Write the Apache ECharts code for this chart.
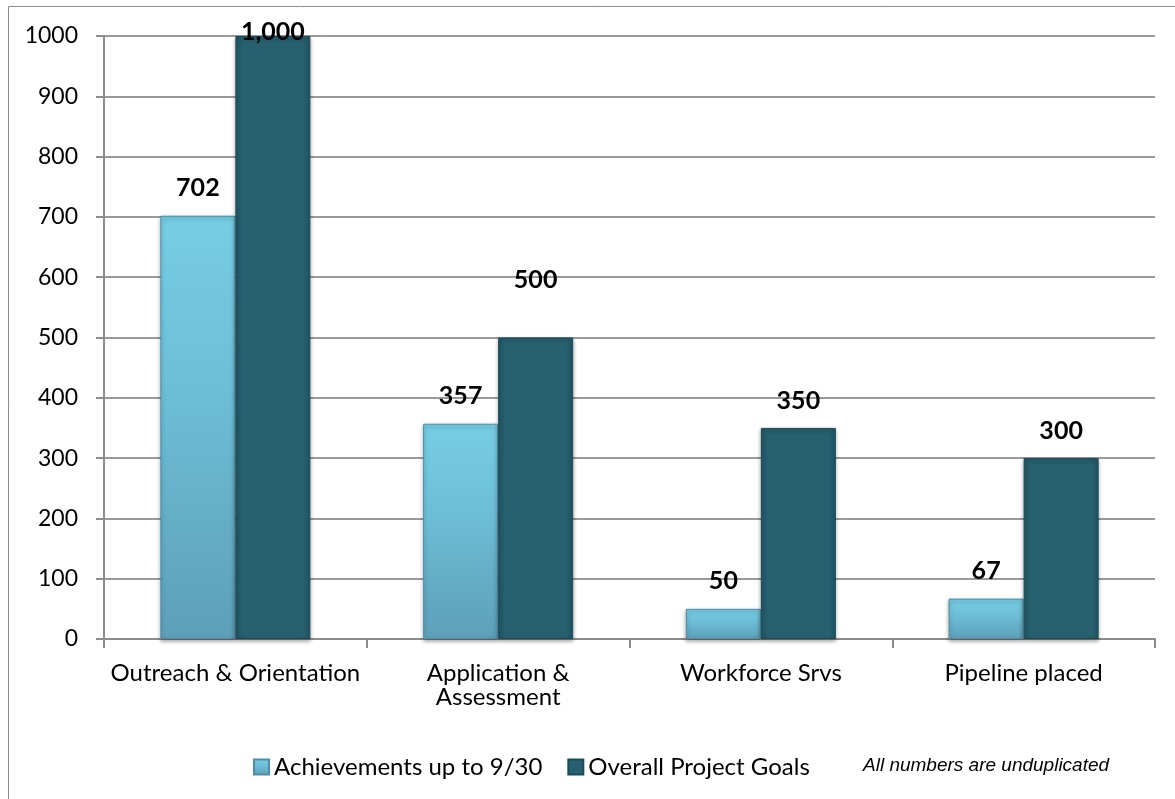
<!DOCTYPE html>
<html>
<head>
<meta charset="utf-8">
<script src="https://cdn.jsdelivr.net/npm/echarts@6/dist/echarts.min.js"></script>
<style>
  html, body { margin: 0; padding: 0; background: #fff; }
  #chart { width: 1175px; height: 799px; }
</style>
</head>
<body>
<div id="chart"></div>
<script>
// data
var categories = ['Outreach & Orientation', 'Application &\nAssessment', 'Workforce Srvs', 'Pipeline placed'];
var achievements = [702, 357, 50, 67];
var goals = [1000, 500, 350, 300];
var yTicks = [0, 100, 200, 300, 400, 500, 600, 700, 800, 900, 1000];

var lightBar = new echarts.graphic.LinearGradient(0, 0, 0, 1, [
    { offset: 0, color: '#76cde4' },
    { offset: 0.4, color: '#6dbfd8' },
    { offset: 1, color: '#5d9fb9' }
]);
var darkBar = new echarts.graphic.LinearGradient(0, 0, 1, 0, [
    { offset: 0, color: '#215766' },
    { offset: 0.1, color: '#27606e' },
    { offset: 0.9, color: '#27606e' },
    { offset: 1, color: '#215766' }
]);

function fmt(v) {
    return v >= 1000 ? String(v).replace(/\B(?=(\d{3})+(?!\d))/g, ',') : String(v);
}

// label distances tuned per bar (Excel had some labels nudged)
var goalLabelDist = [-8, 45, 15, 15];

var myChart = echarts.init(document.getElementById('chart'));
myChart.setOption({
    animation: false,
    textStyle: { fontFamily: 'Lato' },
    grid: { left: 104, right: 20, top: 36, bottom: 160 },
    graphic: [
        {
            type: 'rect',
            shape: { x: 8.5, y: 6.5, width: 1200, height: 900 },
            style: { fill: 'none', stroke: '#8c8c8c', lineWidth: 1 },
            silent: true
        },
        {
            type: 'text',
            left: 863,
            top: 756,
            style: {
                text: 'All numbers are unduplicated',
                font: 'italic 19px "Liberation Sans", Arial',
                fill: '#000'
            }
        }
    ],
    legend: {
        left: 248,
        top: 750,
        itemWidth: 15,
        itemHeight: 15,
        itemGap: 25,
        icon: 'rect',
        textStyle: { fontSize: 24, color: '#000', fontFamily: 'Lato' },
        data: ['Achievements up to 9/30', 'Overall Project Goals']
    },
    xAxis: {
        type: 'category',
        data: categories,
        axisLine: { lineStyle: { color: '#8c8c8c', width: 2 } },
        axisTick: { show: true, length: 9, lineStyle: { color: '#8c8c8c', width: 2 } },
        axisLabel: { color: '#000', fontSize: 24, margin: 22, lineHeight: 24, interval: 0 }
    },
    yAxis: {
        type: 'value',
        min: 0,
        max: 1000,
        interval: 100,
        axisLine: { show: true, lineStyle: { color: '#8c8c8c', width: 2 } },
        axisTick: { show: true, length: 8, lineStyle: { color: '#8c8c8c', width: 2 } },
        splitLine: { lineStyle: { color: '#9a9a9a', width: 2 } },
        axisLabel: {
            color: '#000',
            fontSize: 23,
            margin: 26,
            formatter: function (v) { return yTicks.indexOf(v) >= 0 ? String(v) : ''; }
        }
    },
    series: [
        {
            name: 'Achievements up to 9/30',
            type: 'bar',
            barWidth: 75,
            barGap: '0%',
            data: achievements,
            itemStyle: {
                color: lightBar, borderColor: '#4f8ea6', borderWidth: 1,
                shadowColor: 'rgba(0,0,0,0.35)', shadowBlur: 4, shadowOffsetY: 2
            },
            label: {
                show: true,
                position: 'top',
                distance: 15,
                color: '#000',
                fontSize: 25,
                fontWeight: 'bold',
                formatter: function (p) { return fmt(p.value); }
            }
        },
        {
            name: 'Overall Project Goals',
            type: 'bar',
            barWidth: 75,
            data: goals.map(function (v, i) {
                return { value: v, label: { distance: goalLabelDist[i] } };
            }),
            itemStyle: {
                color: darkBar, borderColor: '#1c4b58', borderWidth: 1,
                shadowColor: 'rgba(0,0,0,0.35)', shadowBlur: 4, shadowOffsetY: 2
            },
            label: {
                show: true,
                position: 'top',
                distance: 15,
                color: '#000',
                fontSize: 25,
                fontWeight: 'bold',
                formatter: function (p) { return fmt(p.value); }
            }
        }
    ]
});
</script>
</body>
</html>
